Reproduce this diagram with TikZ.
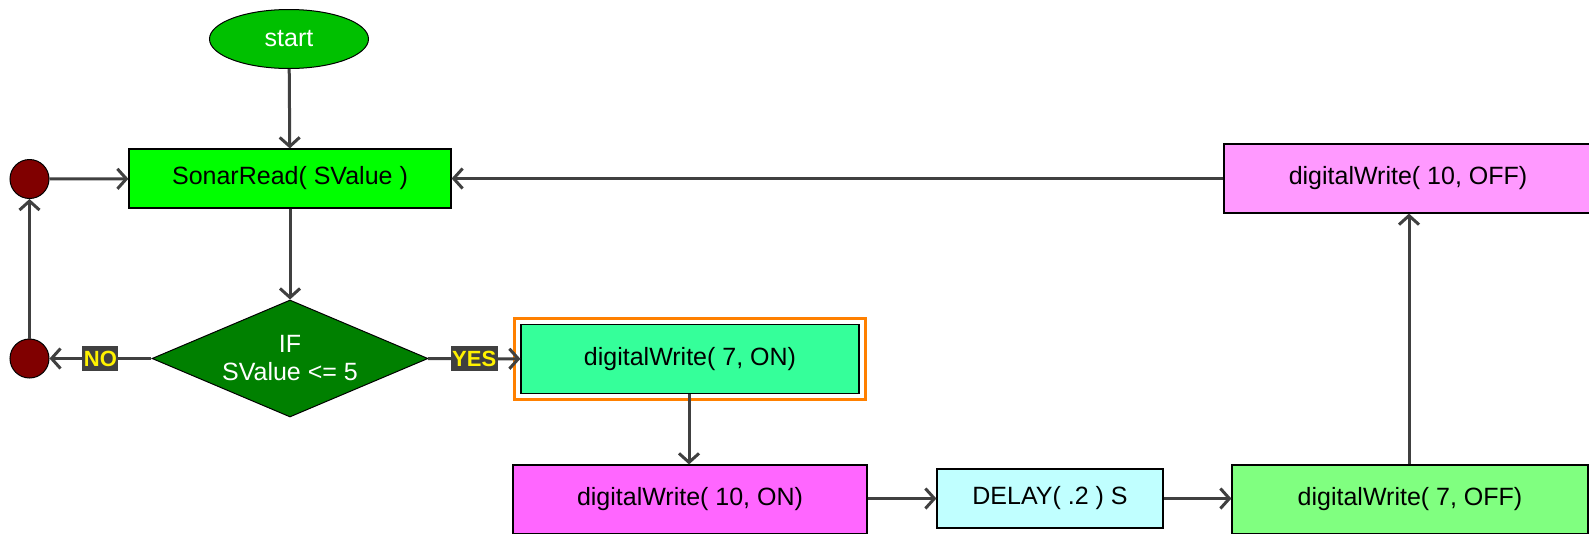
\documentclass[tikz,border=0pt]{standalone}
\usepackage{fontspec}
\setmainfont{Liberation Sans}
\usetikzlibrary{arrows.meta}
\usetikzlibrary{shapes.geometric}
\definecolor{linegray}{HTML}{404040}
\definecolor{startgreen}{HTML}{00C000}
\definecolor{readgreen}{HTML}{00FF00}
\definecolor{ifgreen}{HTML}{008000}
\definecolor{joinred}{HTML}{800000}
\definecolor{ongreen}{HTML}{35FF9A}
\definecolor{onpink}{HTML}{FF66FF}
\definecolor{delaycyan}{HTML}{C0FFFF}
\definecolor{offgreen}{HTML}{80FF80}
\definecolor{offpink}{HTML}{FF99FF}
\definecolor{selorange}{HTML}{FF8000}
\tikzset{%
  >={Straight Barb[length=9pt,width=20pt]},
  flow/.style={draw=linegray,line width=3pt,->},
  box font/.style={font=\fontsize{25}{28}\selectfont},
  action box/.style={rectangle,draw=black,line width=1.2pt,inner sep=0pt,
    box font},
  start oval/.style={ellipse,draw=black,line width=1pt,fill=startgreen,
    text=white,inner sep=0pt,minimum width=159pt,minimum height=59pt,box font},
  test diamond/.style={diamond,draw=black,line width=1pt,fill=ifgreen,
    text=white,inner sep=0pt,aspect=2.36,minimum width=276pt,
    minimum height=117pt,align=center,box font},
  join dot/.style={circle,draw=black,line width=1pt,fill=joinred,
    inner sep=0pt,minimum size=39pt},
  branch label/.style={fill=linegray,text=yellow,inner sep=1.5pt,
    minimum height=25pt,font=\fontsize{22}{24}\selectfont\bfseries}
}
\begin{document}
\begin{tikzpicture}[x=1pt,y=-1pt]
\useasboundingbox[fill=white] (0,0) rectangle (1589,533);

\node[start oval] (start) at (289,39) {start};
\node[action box,fill=readgreen,minimum width=322pt,minimum height=59pt]
  (sonar) at (290,178.5) {SonarRead( SValue )};
\node[join dot] (loopTop) at (29.5,179) {};
\node[test diamond] (test) at (290,358.5) {IF\\SValue <= 5};
\node[join dot] (loopBot) at (29.5,358.5) {};

\node[action box,fill=ongreen,minimum width=338pt,minimum height=69pt]
  (w7on) at (690,359) {digitalWrite( 7, ON)};
\draw[selorange,line width=3pt]
  ([xshift=-5.5pt,yshift=5.5pt]w7on.north west) rectangle
  ([xshift=5.5pt,yshift=-5.5pt]w7on.south east);
\node[action box,fill=onpink,minimum width=354pt,minimum height=69pt]
  (w10on) at (690,499.5) {digitalWrite( 10, ON)};
\node[action box,fill=delaycyan,minimum width=226pt,minimum height=59pt]
  (delay) at (1050,498.5) {DELAY( .2 ) S};
\node[action box,fill=offgreen,minimum width=356pt,minimum height=69pt]
  (w7off) at (1410,499.5) {digitalWrite( 7, OFF)};
\node[action box,fill=offpink,minimum width=368pt,minimum height=69pt]
  (w10off) at (1408,178.5) {digitalWrite( 10, OFF)};

% connectors
\draw[flow] (start) -- (sonar);
\draw[flow] (loopTop) -- (sonar);
\draw[flow] (sonar) -- (test);
\draw[flow] (test) -- node[branch label] {NO} (loopBot);
\draw[flow] (loopBot) -- (loopTop);
\draw[flow] (test) -- node[branch label] {YES} (w7on);
\draw[flow] (w7on.south -| 689,0) -- (w10on.north -| 689,0);
\draw[flow] (w10on.east |- delay.west) -- (delay.west);
\draw[flow] (delay.east) -- (w7off.west |- delay.east);
\draw[flow] (w7off.north -| 1409,0) -- (w10off.south -| 1409,0);
\draw[flow] (w10off) -- (sonar);
\end{tikzpicture}
\end{document}
